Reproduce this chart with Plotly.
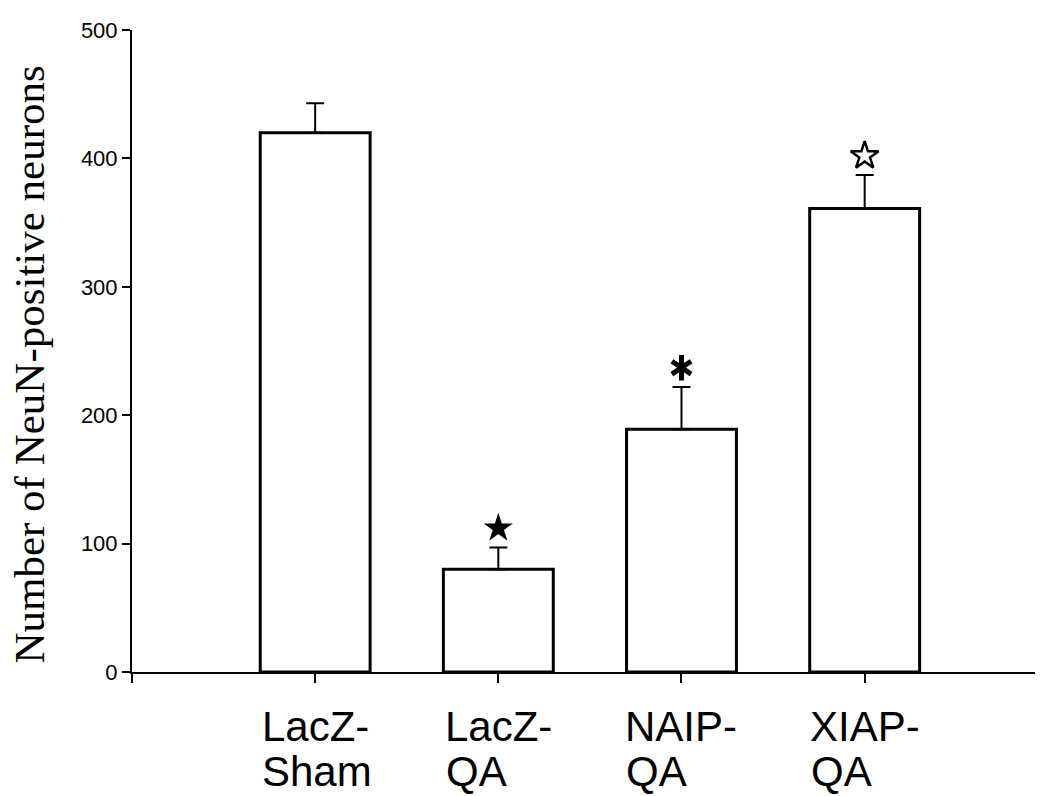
import plotly.graph_objects as go

line1 = ["LacZ-", "LacZ-", "NAIP-", "XIAP-"]
line2 = ["Sham", "QA", "QA", "QA"]
positions = [1, 2, 3, 4]
means = [420, 80, 189, 361]
errors = [23, 17, 33, 26]
y_ticks = [0, 100, 200, 300, 400, 500]
y_title = "Number of NeuN-positive neurons"

# significance markers: (category index, symbol kind)
sig_idx = [1, 2, 3]
sig_kind = ["filled_star", "asterisk", "open_star"]
sig_gap = 15

# Arial / Liberation Sans advance widths (em) for left-aligning the second label line
ARIAL_W = {"L": .556, "a": .556, "c": .5, "Z": .611, "-": .333, "N": .722, "A": .667,
           "I": .278, "P": .667, "X": .667}
LAB_SIZE = 42


def text_width(s, size):
    return sum(ARIAL_W.get(ch, .556) for ch in s) * size


fig = go.Figure()

fig.add_trace(go.Bar(
    x=positions, y=means, width=0.6,
    marker=dict(color="white", line=dict(color="black", width=3)),
    error_y=dict(type="data", symmetric=False, array=errors,
                 arrayminus=[0] * len(errors), color="black",
                 thickness=2, width=9),
    showlegend=False,
))

sig_x = [positions[i] for i in sig_idx]
sig_y = [means[i] + errors[i] + sig_gap for i in sig_idx]

for xi, yi, kind in zip(sig_x, sig_y, sig_kind):
    if kind == "filled_star":
        fig.add_trace(go.Scatter(x=[xi], y=[yi], mode="markers", showlegend=False,
                                 marker=dict(symbol="star", size=22, color="black",
                                             line=dict(width=0))))
    elif kind == "open_star":
        fig.add_trace(go.Scatter(x=[xi], y=[yi], mode="markers", showlegend=False,
                                 marker=dict(symbol="star", size=21, color="white",
                                             line=dict(width=2.5, color="black"))))
    else:
        for sym in ["y-up-open", "y-down-open"]:
            fig.add_trace(go.Scatter(x=[xi], y=[yi], mode="markers", showlegend=False,
                                     marker=dict(symbol=sym, size=16, color="black",
                                                 line=dict(width=5, color="black"))))

lab_font = dict(family="Liberation Sans, Arial", size=LAB_SIZE, color="black")
for xi, a, b in zip(positions, line1, line2):
    fig.add_annotation(x=xi, y=0, xref="x", yref="y", text=a, showarrow=False,
                       xanchor="center", yanchor="top", yshift=-29, font=lab_font)
    fig.add_annotation(x=xi, y=0, xref="x", yref="y", text=b, showarrow=False,
                       xanchor="left", yanchor="top", yshift=-74,
                       xshift=-text_width(a, LAB_SIZE) / 2 - 1, font=lab_font)

fig.add_annotation(x=-0.114, y=0.479, xref="paper", yref="paper", text=y_title,
                   showarrow=False, textangle=-90, xanchor="center", yanchor="middle",
                   font=dict(family="Liberation Serif, Times New Roman", size=43, color="black"))

fig.update_layout(
    width=1041, height=796,
    margin=dict(l=132, r=6, t=30, b=124),
    paper_bgcolor="white", plot_bgcolor="white",
    xaxis=dict(range=[0, 4.93], tickvals=[0, 1, 2, 3, 4], ticktext=["", "", "", "", ""],
               showline=True, linecolor="black", linewidth=2, ticks="outside",
               ticklen=9, tickwidth=2, tickcolor="black", showgrid=False, zeroline=False),
    yaxis=dict(range=[0, 500], tickvals=y_ticks, showline=True, linecolor="black",
               linewidth=2, ticks="outside", ticklen=8, tickwidth=2, tickcolor="black",
               showgrid=False, zeroline=False,
               tickfont=dict(family="Liberation Sans, Arial", size=22, color="black")),
)

fig.write_html("out.html")
